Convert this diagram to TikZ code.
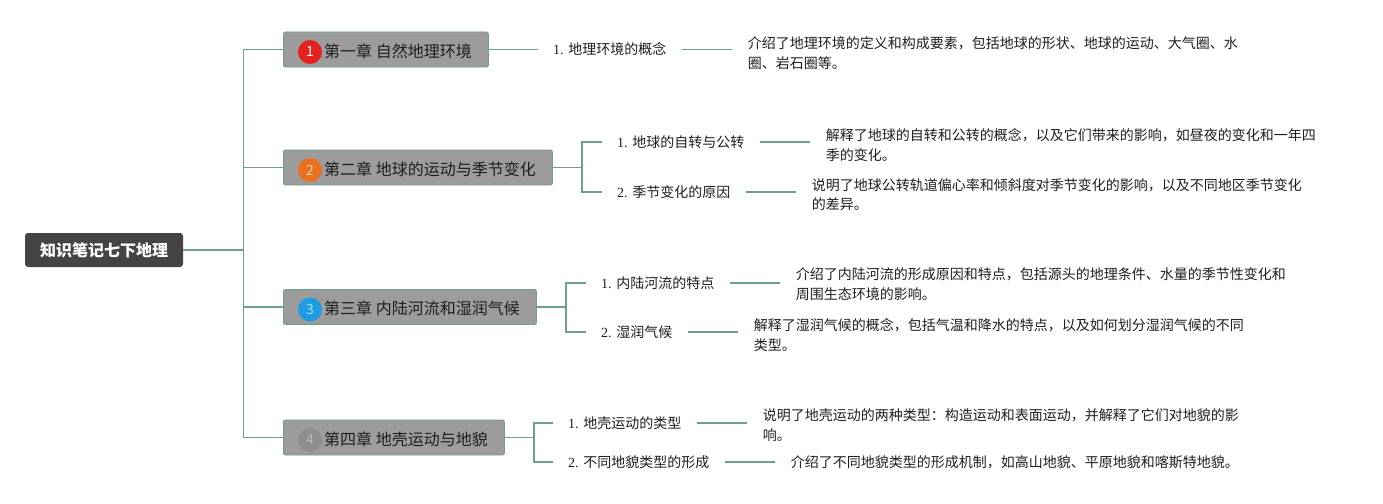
\documentclass[tikz,border=0pt]{standalone}
\usepackage{fontspec}
\setmainfont{Noto Sans CJK SC}
\newfontfamily\numfont{Liberation Serif}
\usetikzlibrary{positioning}

\definecolor{linkcol}{HTML}{6E9E90}
\definecolor{chapfill}{HTML}{9C9C9C}
\definecolor{rootfill}{HTML}{444444}
\definecolor{inkcol}{HTML}{1E1E1E}
\definecolor{badgeA}{HTML}{E3221B}
\definecolor{badgeB}{HTML}{E8701E}
\definecolor{badgeC}{HTML}{1F9BE2}
\definecolor{badgeD}{HTML}{8E8E8E}

\begin{document}
\begin{tikzpicture}[x=1pt,y=-1pt,
  link/.style={draw=linkcol,line width=1.2pt},
  rootbox/.style={fill=rootfill,rounded corners=3pt,text=white,inner sep=0pt,
    minimum width=158pt,minimum height=34pt,font=\fontsize{16}{16}\selectfont\bfseries},
  chapbox/.style={fill=chapfill,draw=linkcol,line width=0.8pt,rounded corners=2pt,
    anchor=west,inner sep=0pt,minimum height=35pt},
  badge/.style={circle,inner sep=0pt,minimum size=24pt,font=\fontsize{14}{14}\selectfont},
  chaptext/.style={anchor=west,inner sep=0pt,text=inkcol,font=\fontsize{16}{16}\selectfont},
  sublabel/.style={anchor=west,inner xsep=15pt,inner ysep=2pt,text=inkcol,
    font=\fontsize{14}{14}\selectfont},
  desc/.style={anchor=west,inner xsep=16pt,inner ysep=0pt,align=left,text=inkcol,
    font=\fontsize{14}{19.5}\selectfont}]
  \useasboundingbox (0,0) rectangle (1383,503);

  % root and trunk
  \node[rootbox] (root) at (104,250) {知识笔记七下地理};
  \coordinate (trunk) at (243.5,250);

  % chapters
  \node[chapbox,minimum width=205pt] (c1) at (283,49.5) {};
  \node[chapbox,minimum width=269pt] (c2) at (283,167.5) {};
  \node[chapbox,minimum width=253pt] (c3) at (283,307) {};
  \node[chapbox,minimum width=221pt] (c4) at (283,437.5) {};
  \node[badge,fill=badgeA,text=white] (n1) at (310,52) {1};
  \node[badge,fill=badgeB,text=orange!35] (n2) at (310,170) {2};
  \node[badge,fill=badgeC,text=cyan!35] (n3) at (310,309.5) {3};
  \node[badge,fill=badgeD,text=gray!55] (n4) at (310,440) {4};
  \node[chaptext] (t1) at (324,51) {第一章 自然地理环境};
  \node[chaptext] (t2) at (324,169) {第二章 地球的运动与季节变化};
  \node[chaptext] (t3) at (324,308.5) {第三章 内陆河流和湿润气候};
  \node[chaptext] (t4) at (324,439) {第四章 地壳运动与地貌};

  \draw[link] (root) -- (trunk);
  \draw[link] (c1.west) -| (trunk |- c4.west) -- (c4.west);
  \draw[link] (trunk |- c2.west) -- (c2.west);
  \draw[link] (trunk |- c3.west) -- (c3.west);

  % sections
  \coordinate (j2) at (582,167.5);
  \coordinate (j3) at (566,307);
  \coordinate (j4) at (534,437.5);
  \node[sublabel] (s11) at (538,49.5) {{\numfont 1. }地理环境的概念};
  \node[sublabel] (s21) at (602,142) {{\numfont 1. }地球的自转与公转};
  \node[sublabel] (s22) at (602,192) {{\numfont 2. }季节变化的原因};
  \node[sublabel] (s31) at (586,283) {{\numfont 1. }内陆河流的特点};
  \node[sublabel] (s32) at (586,332) {{\numfont 2. }湿润气候};
  \node[sublabel] (s41) at (553,423) {{\numfont 1. }地壳运动的类型};
  \node[sublabel] (s42) at (553,462) {{\numfont 2. }不同地貌类型的形成};

  \draw[link] (c1.east) -- (s11.west);
  \draw[link] (c2.east) -- (j2);
  \draw[link] (s21.west) -| (j2) |- (s22.west);
  \draw[link] (c3.east) -- (j3);
  \draw[link] (s31.west) -| (j3) |- (s32.west);
  \draw[link] (c4.east) -- (j4);
  \draw[link] (s41.west) -| (j4) |- (s42.west);

  % descriptions
  \node[desc,right=50pt of s11,yshift=-3.5pt] (d11) {介绍了地理环境的定义和构成要素，包括地球的形状、地球的运动、大气圈、水\\圈、岩石圈等。};
  \node[desc,right=50pt of s21,yshift=-3pt] (d21) {解释了地球的自转和公转的概念，以及它们带来的影响，如昼夜的变化和一年四\\季的变化。};
  \node[desc,right=50pt of s22,yshift=-2.5pt] (d22) {说明了地球公转轨道偏心率和倾斜度对季节变化的影响，以及不同地区季节变化\\的差异。};
  \node[desc,right=50pt of s31,yshift=-1pt] (d31) {介绍了内陆河流的形成原因和特点，包括源头的地理条件、水量的季节性变化和\\周围生态环境的影响。};
  \node[desc,right=50pt of s32,yshift=-3pt] (d32) {解释了湿润气候的概念，包括气温和降水的特点，以及如何划分湿润气候的不同\\类型。};
  \node[desc,right=50pt of s41,yshift=-2pt] (d41) {说明了地壳运动的两种类型：构造运动和表面运动，并解释了它们对地貌的影\\响。};
  \node[desc,right=50pt of s42] (d42) {介绍了不同地貌类型的形成机制，如高山地貌、平原地貌和喀斯特地貌。};

  \draw[link] (s11.east) -- (s11.east -| d11.west);
  \draw[link] (s21.east) -- (s21.east -| d21.west);
  \draw[link] (s22.east) -- (s22.east -| d22.west);
  \draw[link] (s31.east) -- (s31.east -| d31.west);
  \draw[link] (s32.east) -- (s32.east -| d32.west);
  \draw[link] (s41.east) -- (s41.east -| d41.west);
  \draw[link] (s42.east) -- (s42.east -| d42.west);
\end{tikzpicture}
\end{document}
